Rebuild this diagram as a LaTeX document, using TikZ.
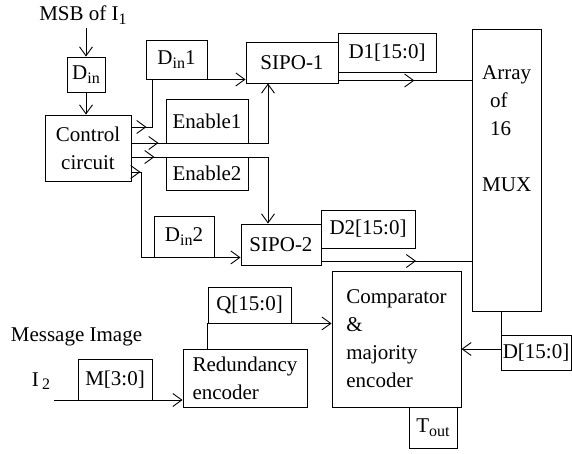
\documentclass[tikz,border=0pt]{standalone}
\usepackage{fontspec}
\setmainfont{Liberation Serif}
\usetikzlibrary{arrows.meta,positioning,calc,decorations.markings}

\newcommand{\lowsub}[1]{\raisebox{-3.5pt}{\fontsize{16}{16}\selectfont #1}}

\begin{document}
\begin{tikzpicture}[
    x=1pt, y=-1pt,
    font=\fontsize{21}{28}\selectfont,
    block/.style={rectangle, draw, line width=0.9pt, inner sep=0pt, align=center},
    wire/.style={draw, line width=0.9pt},
    line/.style={draw, line width=0.9pt, -{Straight Barb[length=9pt,width=13pt]}},
    midarrow/.style={postaction={decorate,decoration={markings,
        mark=at position #1 with {\arrow{Straight Barb[length=9pt,width=13pt]}}}}}
]
    \useasboundingbox[fill=white] (0,0) rectangle (572,453);

    \node (msb) at (83,15) {MSB of I\lowsub{1}};
    \node [block, minimum width=38pt, minimum height=35pt] (din) at (86,74.5) {D\lowsub{in}};
    \node [block, minimum width=86pt, minimum height=66pt] (ctrl) at (88,148) {Control\\circuit};
    \node [block, minimum width=61pt, minimum height=39pt] (din1) at (176.5,59.5) {D\lowsub{in}1};
    \node [block, minimum width=82pt, minimum height=44pt] (en1) at (207,121) {Enable1};
    \node [block, minimum width=82pt, minimum height=33pt] (en2) at (207,173.5) {Enable2};
    \node [block, minimum width=60pt, minimum height=41pt] (din2) at (184,236.5) {D\lowsub{in}2};
    \node [block, minimum width=92pt, minimum height=41pt] (sipo1) at (292,62.5) {SIPO-1};
    \node [block, minimum width=98pt, minimum height=39pt] (d1) at (387,52.5) {D1[15:0]};
    \node [block, minimum width=80pt, minimum height=41pt] (sipo2) at (281,244.5) {SIPO-2};
    \node [block, minimum width=94pt, minimum height=38pt] (d2) at (368,229) {D2[15:0]};
    \node [block, minimum width=69pt, minimum height=282pt] (mux) at (506.5,170) {};
    \node [anchor=north west, inner sep=0pt, align=left] (muxtext) at (482,65)
        {Array\\\hspace*{8pt}of\\\hspace*{8pt}16\\[28pt]MUX};

    \node (msg) at (76.5,337) {Message Image};
    \node (i2) at (41,381) {I\,\lowsub{2}};
    \node [block, minimum width=74pt, minimum height=41pt] (m) at (115,379.5) {M[3:0]};
    \node [block, minimum width=124pt, minimum height=58pt, align=left] (red) at (245,378) {Redundancy\\encoder};
    \node [block, minimum width=83pt, minimum height=36pt] (q) at (249.5,305) {Q[15:0]};
    \node [block, minimum width=129pt, minimum height=136pt, align=left] (comp) at (396.5,339)
        {Comparator\\\&\\majority\\encoder};
    \node [block, minimum width=48pt, minimum height=41pt] (tout) at (433,427.5) {T\lowsub{out}};
    \node [block, minimum width=70pt, minimum height=35pt] (dbox) at (536,352.5) {D[15:0]};

    \draw [line] (din.north |- msb.south) -- (din.north);
    \draw [line] (din.south) -- (din.south |- ctrl.north);

    \draw [line, midarrow=15pt] ([yshift=21pt]ctrl.east) -| ([xshift=-24.5pt]din1.south) -- (sipo1.west |- din1.south);
    \draw [line, midarrow=27pt] ([yshift=5pt]ctrl.east) -| ([xshift=-24pt]sipo1.south);
    \draw [line, midarrow=23pt] ([yshift=-9pt]ctrl.east) -| ([xshift=-13pt]sipo2.north);
    \draw [line, midarrow=9pt] ([yshift=-24pt]ctrl.east) -| ([xshift=-12pt]din2.south west) -- (sipo2.west |- din2.south);

    \coordinate (s1out) at ([yshift=-18pt]sipo1.east);
    \coordinate (s2out) at ([yshift=-16.5pt]sipo2.east);
    \draw [wire, midarrow=0.57] (s1out) -- (s1out -| mux.west);
    \draw [wire, midarrow=0.63] (s2out) -- (s2out -| mux.west);

    \coordinate (i2in) at (54,400);
    \draw [line] (i2in) -- (i2in -| red.west);
    \draw [line] (red.north -| q.south west) |- (comp.west |- q.south);

    \coordinate (dend) at ([yshift=-10pt]comp.east);
    \draw [line] ([xshift=30pt]mux.south west) |- (dend);
\end{tikzpicture}
\end{document}
